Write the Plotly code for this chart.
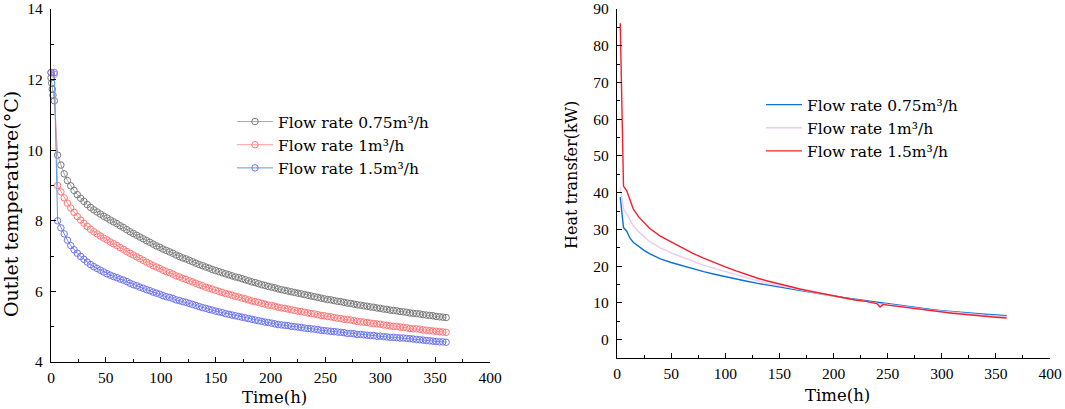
import plotly.graph_objects as go

# ---------------- Left chart: outlet temperature ----------------
time_h = [0, 3, 6, 9, 12, 15, 18, 21, 24, 27, 30, 33, 36, 39, 42, 45, 48, 51, 54, 57, 60,
          63, 66, 69, 72, 75, 78, 81, 84, 87, 90, 93, 96, 99, 102, 105, 108, 111, 114, 117, 120,
          123, 126, 129, 132, 135, 138, 141, 144, 147, 150, 153, 156, 159, 162, 165, 168, 171, 174, 177, 180,
          183, 186, 189, 192, 195, 198, 201, 204, 207, 210, 213, 216, 219, 222, 225, 228, 231, 234, 237, 240,
          243, 246, 249, 252, 255, 258, 261, 264, 267, 270, 273, 276, 279, 282, 285, 288, 291, 294, 297, 300,
          303, 306, 309, 312, 315, 318, 321, 324, 327, 330, 333, 336, 339, 342, 345, 348, 351, 354, 357, 360]

gray_start_t = [0, 0.6, 1.2, 1.8]
gray_start_v = [12.05, 11.9, 11.73, 11.56]

# flow rate 0.75 m3/h, values for time_h[1:] (t = 3 ... 360)
temp_075 = [11.4, 9.86, 9.58, 9.33, 9.14, 8.99, 8.86, 8.74, 8.64, 8.55, 8.46, 8.38, 8.31, 8.25, 8.19,
            8.13, 8.08, 8.02, 7.97, 7.92, 7.86, 7.81, 7.75, 7.69, 7.64, 7.59, 7.54, 7.49, 7.44, 7.39,
            7.34, 7.29, 7.25, 7.20, 7.16, 7.12, 7.08, 7.03, 6.99, 6.95, 6.92, 6.88, 6.84, 6.80, 6.76,
            6.73, 6.69, 6.66, 6.62, 6.59, 6.56, 6.53, 6.50, 6.47, 6.44, 6.41, 6.39, 6.36, 6.33, 6.30,
            6.27, 6.25, 6.22, 6.19, 6.17, 6.14, 6.12, 6.10, 6.07, 6.05, 6.03, 6.01, 5.99, 5.97, 5.95,
            5.93, 5.91, 5.89, 5.87, 5.85, 5.83, 5.81, 5.79, 5.77, 5.76, 5.74, 5.72, 5.71, 5.69, 5.67,
            5.66, 5.64, 5.62, 5.61, 5.59, 5.58, 5.56, 5.55, 5.53, 5.52, 5.50, 5.49, 5.47, 5.46, 5.45,
            5.43, 5.42, 5.41, 5.39, 5.38, 5.37, 5.36, 5.34, 5.33, 5.32, 5.31, 5.29, 5.28, 5.27, 5.26]

# flow rate 1 m3/h (t = 0 ... 360)
temp_1 = [12.2, 12.15, 9.00, 8.82, 8.65, 8.50, 8.36, 8.24, 8.12, 8.02, 7.93, 7.84, 7.76, 7.69, 7.63,
          7.57, 7.51, 7.46, 7.40, 7.35, 7.30, 7.24, 7.19, 7.13, 7.08, 7.03, 6.98, 6.93, 6.88, 6.83,
          6.78, 6.73, 6.69, 6.65, 6.60, 6.56, 6.53, 6.49, 6.44, 6.41, 6.37, 6.34, 6.30, 6.27, 6.23,
          6.19, 6.16, 6.12, 6.09, 6.06, 6.03, 6.00, 5.97, 5.94, 5.92, 5.89, 5.86, 5.84, 5.81, 5.79,
          5.76, 5.73, 5.71, 5.69, 5.66, 5.64, 5.61, 5.60, 5.58, 5.55, 5.53, 5.52, 5.50, 5.48, 5.46,
          5.44, 5.43, 5.41, 5.39, 5.37, 5.36, 5.34, 5.32, 5.31, 5.29, 5.28, 5.26, 5.24, 5.23, 5.21,
          5.20, 5.19, 5.17, 5.15, 5.14, 5.13, 5.12, 5.10, 5.09, 5.08, 5.07, 5.05, 5.04, 5.02, 5.01,
          5.01, 4.99, 4.98, 4.97, 4.95, 4.94, 4.94, 4.93, 4.91, 4.90, 4.89, 4.88, 4.87, 4.86, 4.85, 4.84]

# flow rate 1.5 m3/h (t = 0 ... 360)
temp_15 = [12.2, 12.2, 8.00, 7.80, 7.63, 7.45, 7.30, 7.18, 7.08, 6.99, 6.91, 6.83, 6.76, 6.70, 6.65,
           6.60, 6.55, 6.50, 6.46, 6.42, 6.39, 6.35, 6.32, 6.28, 6.23, 6.19, 6.16, 6.12, 6.09, 6.05,
           6.02, 5.98, 5.95, 5.92, 5.88, 5.85, 5.83, 5.80, 5.76, 5.74, 5.71, 5.69, 5.66, 5.63, 5.60,
           5.57, 5.54, 5.52, 5.49, 5.47, 5.44, 5.42, 5.40, 5.37, 5.35, 5.33, 5.31, 5.29, 5.27, 5.25,
           5.23, 5.21, 5.19, 5.17, 5.15, 5.13, 5.12, 5.10, 5.08, 5.06, 5.05, 5.04, 5.03, 5.01, 5.00,
           4.99, 4.98, 4.96, 4.95, 4.94, 4.93, 4.92, 4.90, 4.89, 4.88, 4.87, 4.86, 4.85, 4.84, 4.83,
           4.81, 4.81, 4.80, 4.78, 4.78, 4.77, 4.76, 4.75, 4.75, 4.73, 4.73, 4.72, 4.71, 4.70, 4.70,
           4.69, 4.68, 4.68, 4.67, 4.66, 4.65, 4.64, 4.63, 4.62, 4.61, 4.60, 4.59, 4.58, 4.57, 4.57, 4.56]

# ---------------- Right chart: heat transfer ----------------
time_r = [3, 6, 9, 12, 15, 20, 25, 30, 40, 50, 60, 70, 80, 90, 100, 110, 120, 130, 140, 150,
          160, 170, 180, 190, 200, 210, 220, 230, 240, 243, 246, 250, 260, 270, 280, 290, 300,
          310, 320, 330, 340, 350, 360]

heat_075 = [38.8, 30.5, 29.5, 27.6, 26.5, 25.3, 24.3, 23.4, 22.0, 21.0, 20.1, 19.3, 18.5, 17.8, 17.1,
            16.5, 15.9, 15.3, 14.8, 14.3, 13.8, 13.2, 12.7, 12.2, 11.8, 11.4, 11.0, 10.6, 10.1, 10.0,
            9.9, 9.7, 9.2, 8.8, 8.5, 8.2, 7.9, 7.6, 7.4, 7.1, 6.9, 6.7, 6.5]
heat_1 = [41.5, 35.5, 34.2, 32.6, 31.0, 29.4, 28.0, 26.7, 25.0, 23.6, 22.5, 21.3, 20.3, 19.4, 18.5,
          17.6, 16.8, 16.0, 15.3, 14.7, 14.1, 13.4, 12.9, 12.3, 11.8, 11.3, 10.9, 10.5, 9.95, 9.1,
          9.75, 9.55, 9.1, 8.7, 8.4, 8.0, 7.7, 7.4, 7.15, 6.9, 6.65, 6.45, 6.25]
heat_15 = [86.1, 41.8, 40.5, 37.8, 35.6, 33.4, 31.7, 30.3, 28.2, 26.6, 25.0, 23.5, 22.2, 20.9, 19.8,
           18.7, 17.6, 16.7, 15.9, 15.1, 14.4, 13.7, 13.1, 12.5, 11.9, 11.3, 10.8, 10.4, 9.8, 8.9,
           9.6, 9.4, 9.0, 8.6, 8.2, 7.8, 7.5, 7.2, 6.9, 6.6, 6.3, 6.1, 5.9]

names = ["Flow rate 0.75m³/h", "Flow rate 1m³/h", "Flow rate 1.5m³/h"]

NUM_FONT = "Liberation Serif, Times New Roman, serif"
TXT_FONT = "DejaVu Serif, serif"

fig = go.Figure()

# left traces
fig.add_trace(go.Scatter(
    x=gray_start_t + time_h[1:], y=gray_start_v + temp_075, name=names[0],
    mode="lines+markers", line=dict(color="#a9a9a9", width=1),
    marker=dict(symbol="circle-open", size=6.5, color="#7a7a7a", line=dict(width=1, color="#7a7a7a")),
    cliponaxis=False, xaxis="x", yaxis="y", legend="legend"))
fig.add_trace(go.Scatter(
    x=time_h, y=temp_1, name=names[1],
    mode="lines+markers", line=dict(color="#ff9c9c", width=1),
    marker=dict(symbol="circle-open", size=6.5, color="#ff7676", line=dict(width=1, color="#ff7676")),
    cliponaxis=False, xaxis="x", yaxis="y", legend="legend"))
fig.add_trace(go.Scatter(
    x=time_h, y=temp_15, name=names[2],
    mode="lines+markers", line=dict(color="#5b9be0", width=1),
    marker=dict(symbol="circle-open", size=6.5, color="#7272ee", line=dict(width=1, color="#7272ee")),
    cliponaxis=False, xaxis="x", yaxis="y", legend="legend"))

# right traces
fig.add_trace(go.Scatter(
    x=time_r, y=heat_075, name=names[0], mode="lines",
    line=dict(color="#0a72d8", width=1.4), xaxis="x2", yaxis="y2", legend="legend2"))
fig.add_trace(go.Scatter(
    x=time_r, y=heat_1, name=names[1], mode="lines",
    line=dict(color="#ecc9f2", width=1.4), xaxis="x2", yaxis="y2", legend="legend2"))
fig.add_trace(go.Scatter(
    x=time_r, y=heat_15, name=names[2], mode="lines",
    line=dict(color="#f4202c", width=1.4), xaxis="x2", yaxis="y2", legend="legend2"))

W, H = 1065, 409

def px_x(p):
    return p / W

def px_y(p):
    return 1 - p / H

axis_common = dict(
    showline=True, linecolor="black", linewidth=1.3, showgrid=False, zeroline=False,
    ticks="inside", ticklen=5, tickwidth=1.2, tickcolor="black",
    tickfont=dict(family=NUM_FONT, size=15.5, color="black"),
    mirror=False, automargin=False,
)

minor_x = dict(dtick=25, ticks="inside", ticklen=3, tickcolor="black", tickwidth=1)

fig.update_layout(
    width=W, height=H,
    margin=dict(l=0, r=0, t=0, b=0),
    paper_bgcolor="white", plot_bgcolor="white",
    font=dict(family=NUM_FONT, size=15, color="black"),
    xaxis=dict(domain=[px_x(51), px_x(490)], range=[0, 400], tick0=0, dtick=50,
               minor=minor_x, anchor="y", ticklabelstandoff=1, **axis_common),
    yaxis=dict(domain=[px_y(362), px_y(9)], range=[4, 14], tick0=4, dtick=2,
               minor=dict(dtick=1, ticks="inside", ticklen=3, tickcolor="black", tickwidth=1),
               anchor="x", ticklabelstandoff=4, **axis_common),
    xaxis2=dict(domain=[px_x(617), px_x(1050)], range=[0, 400], tick0=0, dtick=50,
                minor=minor_x, anchor="y2", ticklabelstandoff=1, **axis_common),
    yaxis2=dict(domain=[px_y(358), px_y(9)], range=[-5, 90], tickvals=[0, 10, 20, 30, 40, 50, 60, 70, 80, 90],
                minor=dict(tickvals=[-5, 5, 15, 25, 35, 45, 55, 65, 75, 85], ticks="inside", ticklen=3,
                           tickcolor="black", tickwidth=1),
                anchor="x2", ticklabelstandoff=4, **axis_common),
    legend=dict(x=px_x(232), y=px_y(105), xanchor="left", yanchor="top",
                bgcolor="rgba(0,0,0,0)", borderwidth=0, itemwidth=36,
                font=dict(family=TXT_FONT, size=15.5, color="black"), tracegroupgap=0),
    legend2=dict(x=px_x(761), y=px_y(88), xanchor="left", yanchor="top",
                 bgcolor="rgba(0,0,0,0)", borderwidth=0, itemwidth=36,
                 font=dict(family=TXT_FONT, size=15.5, color="black"), tracegroupgap=0),
    showlegend=True,
    annotations=[
        dict(text="Outlet temperature(°C)", x=px_x(11), y=px_y(204), xref="paper", yref="paper",
             xanchor="center", yanchor="middle",
             textangle=-90, showarrow=False, font=dict(family=TXT_FONT, size=19, color="black")),
        dict(text="Heat transfer(kW)", x=px_x(572), y=px_y(175), xref="paper", yref="paper",
             xanchor="center", yanchor="middle",
             textangle=-90, showarrow=False, font=dict(family=TXT_FONT, size=16, color="black")),
        dict(text="Time(h)", x=px_x(274), y=px_y(397), xref="paper", yref="paper",
             xanchor="center", yanchor="middle",
             showarrow=False, font=dict(family=TXT_FONT, size=16.5, color="black")),
        dict(text="Time(h)", x=px_x(837), y=px_y(395), xref="paper", yref="paper",
             xanchor="center", yanchor="middle",
             showarrow=False, font=dict(family=TXT_FONT, size=16.5, color="black")),
    ],
)

fig.write_html("out.html", post_script="document.body.style.margin='0';",
               config={"displayModeBar": False})
